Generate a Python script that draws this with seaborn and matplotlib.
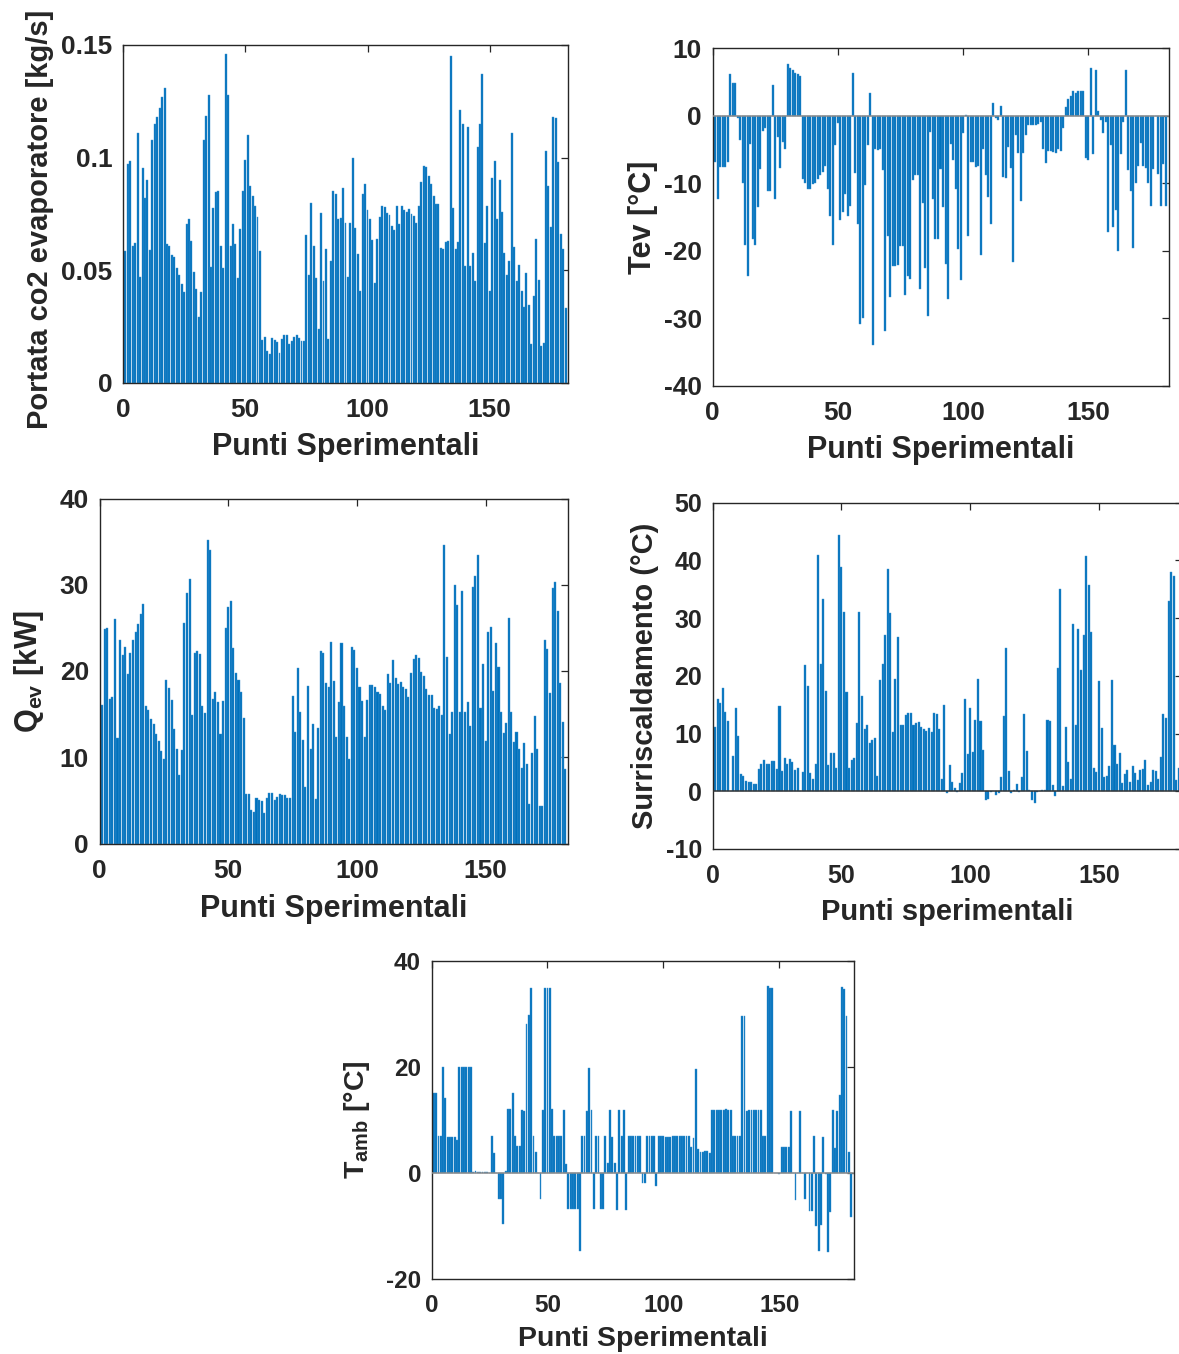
import numpy as np
import matplotlib
matplotlib.use("Agg")
import matplotlib.pyplot as plt
import seaborn as sns

# ---------------- data (one value per experimental point, 1..181) ----------------
portata_co2 = [
    0.0587, 0.0970, 0.0985, 0.0607, 0.0623, 0.1110, 0.0470, 0.0953, 0.0820, 0.0900,
    0.0590, 0.1080, 0.1150, 0.1180, 0.1220, 0.1270, 0.1310, 0.0617, 0.0610, 0.0570,
    0.0558, 0.0510, 0.0480, 0.0438, 0.0404, 0.0707, 0.0730, 0.0629, 0.0493, 0.0416,
    0.0293, 0.0404, 0.1080, 0.1186, 0.1280, 0.0516, 0.0778, 0.0846, 0.0850, 0.0607,
    0.0510, 0.1460, 0.1280, 0.0608, 0.0707, 0.0615, 0.0464, 0.0683, 0.0853, 0.0990,
    0.1100, 0.0874, 0.0828, 0.0787, 0.0737, 0.0586, 0.0190, 0.0203, 0.0140, 0.0129,
    0.0198, 0.0190, 0.0182, 0.0135, 0.0195, 0.0214, 0.0211, 0.0173, 0.0188, 0.0204,
    0.0211, 0.0198, 0.0186, 0.0186, 0.0655, 0.0480, 0.0800, 0.0607, 0.0464, 0.0240,
    0.0753, 0.0454, 0.0596, 0.0195, 0.0540, 0.0850, 0.0840, 0.0728, 0.0732, 0.0864,
    0.0710, 0.0470, 0.0711, 0.0999, 0.0686, 0.0574, 0.0407, 0.0839, 0.0885, 0.0768,
    0.0726, 0.0635, 0.0442, 0.0639, 0.0738, 0.0786, 0.0783, 0.0756, 0.0746, 0.0697,
    0.0678, 0.0786, 0.0704, 0.0787, 0.0768, 0.0757, 0.0771, 0.0749, 0.0741, 0.0710,
    0.0786, 0.0892, 0.0962, 0.0957, 0.0917, 0.0883, 0.0828, 0.0796, 0.0796, 0.0598,
    0.0593, 0.0624, 0.0629, 0.1450, 0.0775, 0.0596, 0.0624, 0.1210, 0.1150, 0.0519,
    0.1136, 0.0519, 0.0577, 0.0453, 0.1046, 0.1148, 0.1370, 0.0621, 0.0787, 0.0407,
    0.0908, 0.0987, 0.0728, 0.0900, 0.0757, 0.0575, 0.0478, 0.0540, 0.1110, 0.0604,
    0.0453, 0.0522, 0.0410, 0.0339, 0.0487, 0.0345, 0.0172, 0.0385, 0.0639, 0.0457,
    0.0164, 0.0178, 0.1028, 0.0874, 0.0692, 0.1180, 0.1175, 0.0980, 0.0661, 0.0593,
    0.0331,
]

t_ev = [
    -6.9, -12.3, -7.6, -7.6, -7.6, -6.9, 6.2, 4.8, 4.8, -0.35,
    -3.6, -9.9, -19.1, -23.7, -4.2, -18.2, -19.1, -13.5, -7.9, -2.3,
    -1.8, -11.2, -11.2, 4.5, -12.3, -3.1, -7.8, -3.9, -4.9, 7.6,
    7.1, 6.8, 6.3, 6.1, 5.8, -9.4, -10.0, -10.8, -10.8, -10.1,
    -10.0, -9.4, -8.8, -8.4, -7.5, -10.9, -14.9, -19.2, -4.4, -1.1,
    -15.4, -14.3, -11.6, -14.8, -13.4, 6.3, -8.5, -16.0, -30.8, -30.0,
    -10.2, -4.3, 3.3, -34.0, -4.9, -5.1, -4.9, -8.0, -31.8, -17.8,
    -26.9, -22.3, -22.2, -22.1, -19.3, -19.3, -26.6, -23.8, -24.2, -9.5,
    -8.8, -8.8, -25.7, -12.9, -22.5, -29.7, -2.4, -12.4, -18.3, -18.3,
    -7.9, -13.5, -22.0, -27.2, -4.2, -6.6, -10.9, -19.7, -24.3, -2.6,
    0.1, -17.8, -6.8, -6.9, -7.6, -7.4, -20.6, -5.0, -8.8, -12.1,
    -16.0, 1.8, -0.35, -0.7, 1.4, -9.1, -9.2, -4.6, -7.8, -21.7,
    -2.8, -5.6, -12.6, -5.5, -2.9, -1.4, -1.4, -1.4, -1.4, -1.2,
    -1.0, -4.9, -7.0, -5.2, -5.2, -5.4, -5.5, -5.0, -5.3, -1.8,
    1.2, 2.5, 2.9, 3.6, 3.3, 3.6, 3.7, 3.7, -6.3, -6.6,
    7.1, -5.7, 6.7, 0.7, -0.6, -2.6, -0.9, -17.2, -4.3, -16.5,
    -14.0, -20.0, -5.7, -1.0, 6.8, -8.0, -11.2, -19.6, -9.9, -7.4,
    -4.1, -7.4, -7.8, -9.9, -13.3, -7.9, 0.0, -8.7, -13.4, -7.1,
    -13.3,
]

q_ev = [
    16.1, 24.9, 25.0, 16.7, 17.0, 26.0, 12.2, 23.6, 21.9, 22.8,
    19.6, 22.1, 23.6, 24.5, 25.5, 26.6, 27.8, 15.9, 15.5, 14.4,
    13.9, 12.7, 11.9, 10.7, 9.8, 18.9, 18.0, 16.6, 13.3, 10.9,
    7.9, 10.8, 25.6, 29.0, 30.7, 14.9, 22.1, 22.3, 22.0, 16.0,
    15.1, 35.2, 34.0, 16.7, 17.6, 16.4, 12.7, 16.5, 25.0, 27.4,
    28.1, 22.7, 19.8, 18.9, 17.6, 14.5, 5.7, 5.7, 3.9, 3.6,
    5.3, 5.1, 4.9, 3.5, 5.3, 5.8, 5.8, 5.1, 5.4, 5.7,
    5.6, 5.6, 5.3, 5.3, 17.1, 12.9, 20.4, 15.3, 12.0, 6.6,
    18.3, 10.9, 13.8, 5.2, 13.4, 22.3, 22.1, 18.6, 18.1, 23.4,
    18.8, 12.4, 16.4, 23.3, 16.0, 12.4, 9.8, 22.8, 22.4, 20.4,
    18.1, 16.5, 12.3, 16.6, 18.4, 18.4, 18.2, 17.6, 17.3, 16.0,
    15.5, 19.6, 18.6, 21.3, 19.2, 18.5, 18.7, 18.1, 17.9, 17.0,
    19.8, 21.4, 21.9, 21.5, 19.9, 19.4, 17.9, 17.2, 17.2, 15.7,
    15.6, 15.9, 14.9, 34.6, 21.6, 12.7, 15.2, 30.0, 27.6, 15.3,
    29.3, 15.3, 16.4, 13.6, 29.7, 31.0, 33.4, 15.7, 20.8, 11.9,
    24.5, 25.1, 17.7, 23.2, 20.5, 15.2, 12.8, 14.0, 26.2, 15.2,
    11.8, 12.9, 10.9, 8.7, 11.7, 9.2, 4.6, 10.5, 14.8, 11.0,
    4.3, 4.4, 23.6, 22.6, 17.4, 29.6, 30.3, 26.9, 18.6, 14.1,
    8.6,
]

surriscaldamento = [
    11.1, 16.0, 15.2, 17.9, 13.7, 12.2, 0.1, 6.1, 14.5, 9.6,
    3.0, 2.7, 1.8, 1.6, 1.6, 1.2, 1.2, 3.8, 4.7, 5.4,
    4.8, 4.7, 5.3, 5.3, 3.8, 14.8, 3.5, 5.8, 4.8, 5.6,
    5.1, 3.6, 4.1, 0.1, 3.3, 21.8, 18.3, 3.1, 2.2, 4.7,
    40.9, 22.0, 33.3, 17.4, 4.6, 6.7, 6.6, 4.0, 44.4, 38.8,
    31.1, 17.1, 4.1, 5.4, 5.7, 11.9, 31.1, 16.5, 10.8, 11.4,
    8.3, 8.8, 9.2, 2.6, 19.2, 22.0, 27.1, 38.5, 30.8, 10.3,
    19.5, 26.7, 11.5, 11.5, 13.2, 13.6, 13.6, 11.5, 11.8, 12.0,
    11.2, 10.7, 10.5, 10.9, 10.2, 13.6, 13.3, 10.8, 2.2, 15.0,
    -0.3, 4.6, 1.6, 0.5, -0.1, 1.5, 3.1, 16.0, 6.4, 14.5,
    6.8, 12.3, 19.4, 12.2, 7.1, -1.6, -1.3, -0.2, 0.0, -0.6,
    -0.3, 2.5, 13.1, 24.8, 3.5, -0.3, 0.3, 1.2, -0.2, 2.5,
    13.4, 7.0, 0.3, -1.5, -2.1, -0.2, 0.0, 0.3, 0.3, 12.4,
    12.1, 1.0, -0.8, 21.4, 35.0, 0.9, 11.2, 5.0, 2.2, 28.9,
    11.4, 28.1, 21.0, 27.0, 40.7, 35.7, 27.6, 4.1, 3.3, 19.1,
    11.0, 2.4, 2.7, 4.4, 19.2, 8.0, 4.7, 6.7, 1.5, 3.0,
    3.6, 1.6, 4.4, 3.2, 2.0, 3.7, 3.9, 5.4, 1.0, 1.6,
    3.7, 3.5, 2.2, 5.9, 13.4, 12.7, 33.0, 38.0, 37.3, 1.9,
    4.1,
]

t_amb = [
    15.0, 15.0, 7.0, 7.0, 20.0, 14.1, 6.8, 6.8, 6.8, 6.8,
    6.1, 20.0, 20.0, 20.0, 20.0, 20.0, 20.0, 0.1, 0.3, 0.1,
    0.1, 0.1, 0.1, 0.2, 0.0, 6.9, 3.7, 0.0, -4.9, -4.9,
    -9.7, 0.3, 12.1, 12.1, 15.0, 6.9, 5.1, 5.1, 11.8, 11.6,
    28.0, 29.8, 34.8, 6.9, 3.9, 0.0, -4.9, 11.9, 34.8, 34.9,
    34.9, 12.1, 7.0, 7.0, 7.0, 6.9, 11.9, 1.6, -6.9, -6.9,
    -6.9, -6.9, -6.9, -14.8, 7.0, 7.0, 11.6, 19.8, 11.9, -6.9,
    7.0, 7.0, -6.9, -6.9, 6.9, 1.9, 11.8, 6.8, 1.9, -7.0,
    11.9, 6.9, 11.9, -7.0, 7.0, 7.0, 7.0, 7.0, 7.0, 7.0,
    -2.0, -2.0, 7.0, 7.0, 6.9, 6.9, -2.5, 7.0, 7.0, 6.9,
    6.8, 6.8, 6.8, 7.0, 7.0, 7.0, 7.0, 7.0, 7.0, 7.0,
    7.0, 4.8, 6.6, 19.5, 4.4, 3.9, 3.9, 4.1, 4.1, 3.8,
    11.9, 11.9, 11.9, 11.9, 11.9, 11.9, 12.1, 11.9, 11.9, 7.0,
    7.0, 7.0, 7.0, 29.6, 29.6, 11.7, 11.9, 11.9, 11.9, 11.9,
    11.9, 11.9, 7.0, 7.0, 35.2, 34.9, 34.9, 0.0, 0.0, -0.2,
    4.8, 4.8, 4.8, 4.8, 11.7, 0.0, -5.1, 0.0, 11.7, 0.0,
    -5.0, 0.0, -7.1, -7.1, 6.9, -10.0, -14.8, -9.8, 6.7, -0.2,
    -15.0, -7.3, 11.8, 4.7, 11.6, 14.6, 35.0, 34.6, 29.6, 3.9,
    -8.4,
]

x_ticks = [0, 50, 100, 150]
x_tick_labels = ["0", "50", "100", "150"]

# ---------------- style ----------------
sns.set_style("white")
plt.rcParams["font.family"] = ["Liberation Sans", "DejaVu Sans"]
plt.rcParams["font.weight"] = "bold"
plt.rcParams["mathtext.fontset"] = "custom"
plt.rcParams["mathtext.rm"] = "Liberation Sans:bold"
plt.rcParams["mathtext.it"] = "Liberation Sans:bold"
plt.rcParams["mathtext.bf"] = "Liberation Sans:bold"

BAR_COLOR = "#0072BD"
BAR_EDGE = "#3f93cf"
AX_COLOR = "#262626"

W, H = 1179, 1354
fig = plt.figure(figsize=(W / 100, H / 100), dpi=100)


def px_axes(left, top, right, bottom):
    return fig.add_axes([left / W, 1 - bottom / H, (right - left) / W, (bottom - top) / H])


def bar_panel(ax, values, ylim, yticks, yticklabels, ylabel, xlabel,
              ylab_xy, xlab_y, tick_size=19, label_size=22, ylabel_size=None,
              baseline=None):
    n = len(values)
    idx = np.arange(1, n + 1)
    sns.barplot(x=idx, y=values, native_scale=True, orient="x", color=BAR_COLOR,
                saturation=1, width=0.8, linewidth=0.3, edgecolor=BAR_EDGE,
                errorbar=None, ax=ax)
    ax.set_xlim(0, n + 1)
    ax.set_ylim(*ylim)
    ax.set_xticks(x_ticks)
    ax.set_xticklabels(x_tick_labels)
    ax.set_yticks(yticks)
    ax.set_yticklabels(yticklabels)
    if baseline is not None:
        ax.axhline(0, color=baseline, lw=1.1, zorder=5)
    for s in ax.spines.values():
        s.set_visible(True)
        s.set_color(AX_COLOR)
        s.set_linewidth(1.0)
    ax.tick_params(axis="both", which="both", direction="in", length=5, width=0.9,
                   colors=AX_COLOR, top=True, right=True, labelsize=tick_size)
    ax.tick_params(axis="x", pad=11)
    ax.tick_params(axis="y", pad=7.5)
    for lab in ax.get_xticklabels() + ax.get_yticklabels():
        lab.set_fontweight("bold")
    ax.set_ylabel(ylabel, fontsize=ylabel_size or label_size, fontweight="bold",
                  color=AX_COLOR)
    ax.set_xlabel(xlabel, fontsize=label_size, fontweight="bold", color=AX_COLOR)
    ax.yaxis.label.set_va("center")
    ax.xaxis.label.set_va("center")
    ax.yaxis.set_label_coords(*ylab_xy)
    ax.xaxis.set_label_coords(0.5, xlab_y)
    ax.grid(False)


ax1 = px_axes(123, 45, 568, 383)
bar_panel(ax1, portata_co2, (0, 0.15), [0, 0.05, 0.1, 0.15], ["0", "0.05", "0.1", "0.15"],
          "Portata co2 evaporatore [kg/s]", "Punti Sperimentali", (-0.187, 0.485), -0.189,
          ylabel_size=21)

ax2 = px_axes(712.5, 48, 1168.5, 386)
bar_panel(ax2, t_ev, (-40, 10), [-40, -30, -20, -10, 0, 10],
          ["-40", "-30", "-20", "-10", "0", "10"],
          "Tev [°C]", "Punti Sperimentali", (-0.152, 0.5), -0.189, baseline="#8a8a8a")

ax3 = px_axes(99.5, 498.5, 568, 843.5)
bar_panel(ax3, q_ev, (0, 40), [0, 10, 20, 30, 40], ["0", "10", "20", "30", "40"],
          r"$\mathbf{Q_{ev}}$ [kW]", "Punti Sperimentali", (-0.150, 0.5), -0.19)

ax4 = px_axes(712.5, 502.5, 1181.5, 849)
bar_panel(ax4, surriscaldamento, (-10, 50), [-10, 0, 10, 20, 30, 40, 50],
          ["-10", "0", "10", "20", "30", "40", "50"],
          "Surriscaldamento (°C)", "Punti sperimentali", (-0.144, 0.5), -0.182,
          tick_size=18, label_size=21, baseline="#333333")

ax5 = px_axes(431.5, 960.5, 853.5, 1279)
bar_panel(ax5, t_amb, (-20, 40), [-20, 0, 20, 40], ["-20", "0", "20", "40"],
          r"$\mathbf{T_{amb}}$ [°C]", "Punti Sperimentali", (-0.176, 0.5), -0.188,
          tick_size=17.5, label_size=20.5, baseline="#8a8a8a")

fig.savefig("out.png", dpi=100, facecolor="white")
